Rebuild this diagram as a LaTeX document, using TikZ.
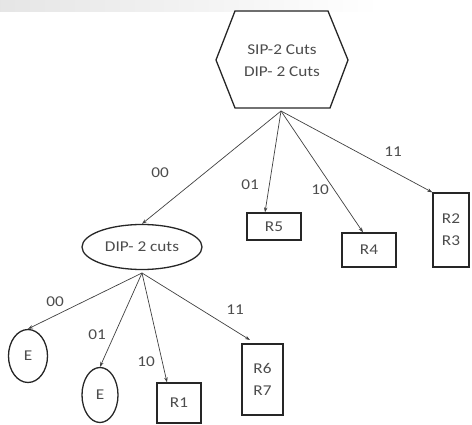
\documentclass[tikz,border=0pt]{standalone}
\usepackage{fontspec}
\setmainfont{Carlito}[FakeStretch=1.15]
\usetikzlibrary{shapes.geometric,arrows.meta}
\begin{document}
\begin{tikzpicture}[x=1pt,y=-1pt,
  txt/.style={text=black!70, font=\fontsize{15}{17}\selectfont},
  box/.style={draw=black!85, line width=1.3pt, txt, inner sep=0pt},
  conn/.style={draw=black!75, line width=0.7pt, -{Stealth[length=5pt,width=3.5pt]}},
  lbl/.style={txt}]
\useasboundingbox (0,0) rectangle (472,425);
\shade[left color=black!10, right color=white] (0,0) rectangle (380,12);
% root hexagon
\draw[draw=black!85, line width=1.3pt] (235,11) -- (328,11) -- (348,60) -- (330,108) -- (235,108) -- (216,60) -- cycle;
\node[txt, align=center] (root) at (282,61) {SIP-2 Cuts\\[5pt]DIP- 2 Cuts};
\coordinate (rb) at (281,111);
% level 1
\node[box, ellipse, minimum width=120, minimum height=45] (dip) at (142,247) {DIP- 2 cuts};
\node[box, minimum width=54, minimum height=27] (r5) at (274,226.5) {R5};
\node[box, minimum width=54, minimum height=34] (r4) at (369,250) {R4};
\node[box, minimum width=36, minimum height=74, align=center] (r23) at (451,230) {R2\\[5pt]R3};
\draw[conn] (rb) -- (dip.north);
\draw[conn] (rb) -- (r5.north -| 265,0);
\draw[conn] (rb) -- (r4.north -| 363,0);
\draw[conn] (rb) -- (r23.north west);
\node[lbl] (l00) at (160,173) {00};
\node[lbl] (l01) at (250,185) {01};
\node[lbl] (l10) at (320,190) {10};
\node[lbl] (l11) at (393,152) {11};
% level 2
\coordinate (db) at (142,273);
\node[box, ellipse, minimum width=39, minimum height=53] (e1) at (28,356) {E};
\node[box, ellipse, minimum width=36, minimum height=55] (e2) at (100,395) {E};
\node[box, minimum width=44, minimum height=40] (r1) at (179,403) {R1};
\node[box, minimum width=41, minimum height=71, align=center] (r67) at (262.5,379.5) {R6\\[5pt]R7};
\draw[conn] (db) -- (e1.north);
\draw[conn] (db) -- (e2.north);
\draw[conn] (db) -- (r1.north -| 167,0);
\draw[conn] (db) -- (250,340);
\node[lbl] (m00) at (55,302) {00};
\node[lbl] (m01) at (97,335) {01};
\node[lbl] (m10) at (146,362) {10};
\node[lbl] (m11) at (235,310) {11};
\end{tikzpicture}
\end{document}
